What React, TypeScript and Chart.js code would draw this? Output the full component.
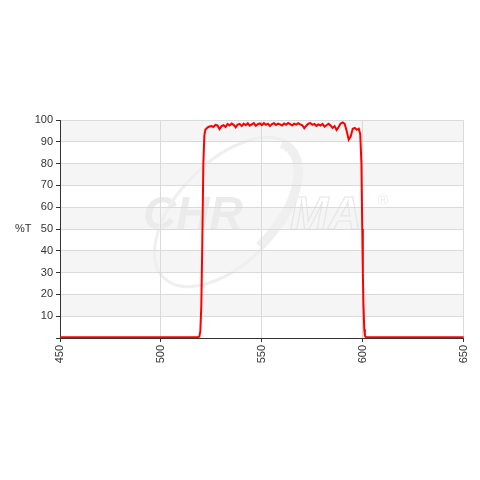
import React, { useEffect, useRef } from "react";
import { Chart, registerables } from "chart.js";

Chart.register(...registerables);

const wavelengths: number[] = [
  450, 480, 518, 519, 519.5, 520, 520.5, 521, 521.5, 522, 523, 524, 525, 526, 527, 528, 529, 530,
  531, 532, 533, 534, 535, 536, 537, 538, 539, 540, 541, 542, 543, 544, 545, 546, 547, 548, 549,
  550, 551, 552, 553, 554, 555, 556, 557, 558, 559, 560, 561, 562, 563, 564, 565, 566, 567, 568,
  569, 570, 571, 572, 573, 574, 575, 576, 577, 578, 579, 580, 581, 582, 583, 584, 585, 586, 587,
  588, 589, 590, 591, 592, 593, 594, 595, 596, 597, 598, 598.7, 599.3, 599.7, 600, 600.3, 600.7,
  601, 601.5, 620, 650,
];

const transmission: number[] = [
  0.4, 0.4, 0.4, 0.6, 3, 15, 45, 80, 93, 95.5, 96.5, 97, 97.2, 96.8, 97.8, 97.5, 95.8, 97.2,
  97.6, 96.8, 98.2, 97.5, 98.4, 97.8, 96.6, 97.9, 98.2, 97.2, 98.3, 97.6, 98.5, 97.4, 98.0, 98.6, 97.3, 98.1, 98.4,
  97.6, 98.6, 97.8, 98.3, 97.2, 98.1, 98.5, 97.7, 98.3, 98.0, 97.5, 98.4, 97.8, 98.6, 98.1, 97.5, 98.3, 97.9, 98.5,
  98.0, 97.6, 96.2, 97.4, 98.3, 98.6, 97.8, 98.2, 97.3, 98.0, 97.5, 98.2, 97.0, 97.6, 98.3, 97.5, 96.3, 97.2, 95.4,
  96.8, 98.4, 98.9, 98.2, 95.0, 91.0, 92.5, 96.0, 96.4, 95.5, 96.0, 93.5, 80, 50, 30, 15, 4,
  1, 0.4, 0.4, 0.4,
];

const xTicks: number[] = [450, 500, 550, 600, 650];
const yTicks: number[] = [0, 10, 20, 30, 40, 50, 60, 70, 80, 90, 100];
const yAxisLabel = "%T";
const watermark = ["CHR", "MA"];

const decorPlugin = {
  id: "decor",
  beforeDraw(chart: any) {
    const { ctx, chartArea, scales } = chart;
    const y = scales.y;
    ctx.save();
    ctx.fillStyle = "#ffffff";
    ctx.fillRect(0, 0, chart.width, chart.height);
    ctx.fillStyle = "#f5f5f5";
    for (let v = 10; v < 100; v += 20) {
      const t = y.getPixelForValue(v + 10);
      const b = y.getPixelForValue(v);
      ctx.fillRect(chartArea.left, t, chartArea.right - chartArea.left, b - t);
    }
    // watermark
    ctx.fillStyle = "#ebebeb";
    ctx.strokeStyle = "#e6e6e6";
    ctx.font = "italic bold 46px 'Liberation Sans', Arial, sans-serif";
    ctx.textBaseline = "alphabetic";
    ctx.textAlign = "left";
    ctx.fillText(watermark[0], 143, 229);
    ctx.lineWidth = 1.2;
    ctx.strokeText(watermark[1], 290, 229);
    ctx.font = "14px 'Liberation Sans', Arial, sans-serif";
    ctx.fillText("®", 378, 205);
    ctx.translate(228, 212);
    ctx.rotate(-0.8);
    ctx.beginPath();
    ctx.ellipse(0, 0, 92, 50, 0, 0, Math.PI * 2);
    ctx.lineWidth = 3;
    ctx.strokeStyle = "#efefef";
    ctx.stroke();
    ctx.beginPath();
    ctx.ellipse(0, 0, 88, 46, 0, -0.2, 1.6);
    ctx.lineWidth = 8;
    ctx.stroke();
    ctx.restore();
  },
  afterDraw(chart: any) {
    const { ctx, chartArea } = chart;
    ctx.save();
    ctx.fillStyle = "#333333";
    ctx.font = "11px 'Liberation Sans', Arial, sans-serif";
    ctx.textAlign = "left";
    ctx.textBaseline = "middle";
    ctx.fillText(yAxisLabel, 15, (chartArea.top + chartArea.bottom) / 2);
    ctx.restore();
  },
};

export default function App() {
  const ref = useRef<HTMLCanvasElement | null>(null);
  useEffect(() => {
    if (!ref.current) return;
    const chart = new Chart(ref.current, {
      type: "line",
      data: {
        datasets: [
          {
            data: wavelengths.map((w, i) => ({ x: w, y: transmission[i] })),
            borderColor: "#ff0000",
            borderWidth: 2,
            pointRadius: 0,
            tension: 0,
            fill: false,
          },
        ],
      },
      options: {
        animation: false,
        responsive: false,
        layout: { padding: { top: 120, right: 11, left: 0, bottom: 0 } },
        plugins: { legend: { display: false }, tooltip: { enabled: false } },
        scales: {
          x: {
            type: "linear",
            min: 450,
            max: 650,
            afterFit: (s: any) => {
              s.height = 142;
            },
            afterBuildTicks: (s: any) => {
              s.ticks = xTicks.map((v) => ({ value: v }));
            },
            ticks: {
              maxRotation: 90,
              minRotation: 90,
              color: "#333333",
              padding: 3,
              font: { family: "'Liberation Sans', Arial, sans-serif", size: 11 },
            },
            grid: { color: "#dadada", tickColor: "#333333", tickLength: 4 },
            border: { color: "#333333", width: 1 },
          },
          y: {
            min: 0,
            max: 100,
            afterFit: (s: any) => {
              s.width = 60;
            },
            afterBuildTicks: (s: any) => {
              s.ticks = yTicks.map((v) => ({ value: v }));
            },
            ticks: {
              color: "#333333",
              padding: 3,
              font: { family: "'Liberation Sans', Arial, sans-serif", size: 11 },
              callback: (v: any) => (v === 0 ? "" : String(v)),
            },
            grid: { color: "#dadada", tickColor: "#333333", tickLength: 4 },
            border: { color: "#333333", width: 1 },
          },
        },
      },
      plugins: [decorPlugin],
    });
    return () => chart.destroy();
  }, []);
  return (
    <div style={{ position: "absolute", left: 0, top: 0, width: 480, height: 480 }}>
      <canvas ref={ref} width={480} height={480} />
    </div>
  );
}
